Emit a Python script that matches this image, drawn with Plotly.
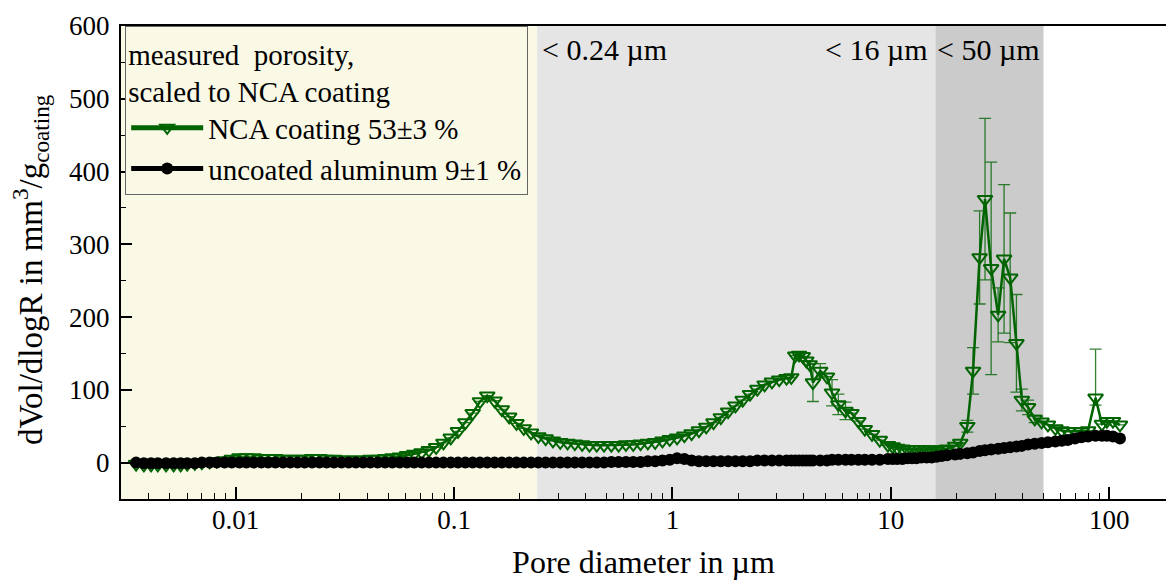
import math
import plotly.graph_objects as go

# ---------------- data ----------------
pore_diameter_um = [
    0.0035, 0.0038, 0.0041, 0.0044, 0.0048, 0.0052, 0.0056, 0.0060, 0.0065, 0.0070,
    0.0076, 0.0082, 0.0089, 0.0096, 0.0104, 0.0112, 0.0121, 0.0131, 0.0141, 0.0152,
    0.0165, 0.0178, 0.0192, 0.0207, 0.0224, 0.0242, 0.0261, 0.0282, 0.0305, 0.0329,
    0.0355, 0.0384, 0.0414, 0.0447, 0.0483, 0.0522, 0.0564, 0.0609, 0.0657, 0.0710,
    0.0767, 0.0828, 0.0894, 0.0966, 0.1043, 0.1127, 0.1217, 0.1314, 0.1419, 0.1533,
    0.1655, 0.1788, 0.1931, 0.2085, 0.2252, 0.2432, 0.2627, 0.2837, 0.3064, 0.3309,
    0.3574, 0.3860, 0.4169, 0.4502, 0.4862, 0.5251, 0.5671, 0.6125, 0.6615, 0.7144,
    0.7716, 0.8333, 0.9000, 0.9720, 1.050, 1.134, 1.224, 1.322, 1.428, 1.542,
    1.666, 1.799, 1.943, 2.098, 2.266, 2.448, 2.643, 2.855, 3.083, 3.330,
    3.500, 3.650, 3.800, 3.950, 4.100, 4.250, 4.400, 4.750, 5.100, 5.380,
    5.750, 6.200, 6.600, 7.100, 7.600, 8.200, 8.900, 9.700, 10.20, 10.70,
    11.30, 11.90, 12.50, 13.10, 13.80, 14.60, 15.40, 16.20, 17.10, 18.10,
    19.70, 20.80, 22.40, 23.80, 25.50, 27.00, 28.80, 31.00, 33.00, 35.20,
    37.60, 39.80, 42.50, 45.60, 49.00, 52.40, 56.70, 60.60, 64.60, 69.70,
    74.70, 80.00, 86.60, 92.60, 97.60, 104.0, 112.0,
]

nca_coating = [
    -2, -3, -3, -3, -3, -3, -3, -2, -1, 0,
    1, 2, 3, 5, 7, 7, 7, 6, 6, 6,
    5, 5, 5, 5, 6, 6, 5, 5, 4, 4,
    4, 4, 5, 5, 6, 7, 8, 10, 12, 14,
    17, 21, 27, 34, 43, 55, 68, 84, 92, 85,
    73, 63, 54, 47, 41, 36, 33, 30, 28, 27,
    26, 25, 24, 24, 24, 24, 24, 25, 25, 26,
    27, 28, 30, 32, 34, 37, 40, 44, 49, 55,
    62, 70, 78, 86, 94, 101, 107, 111, 114, 116,
    117, 147, 148, 146, 140, 135, 110, 126, 118, 96,
    80, 71, 68, 57, 46, 39, 31, 24, 22, 20,
    19, 18, 18, 18, 18, 18, 18, 17, 18, 19,
    23, 27, 50, 126, 282, 362, 267, 203, 280, 254,
    164, 86, 76, 60, 56, 52, 47, 44, 43, 43,
    43, 44, 89, 53, 57, 57, 52,
]

nca_err_plus = [None] * 96 + [26, 10, None, 18, 14, 12] + [None] * 20 + \
    [8, 32, 64, 111, 146, 37, 102, 89, 67, 15, 10, 5] + [None] * 8 + [67, None, None, None, None]
nca_err_minus = [None] * 96 + [26, 10, None, 18, 14, 12] + [None] * 20 + \
    [8, 32, 64, 111, 146, 37, 102, 89, 67, 15, 10, 5] + [None] * 8 + [10, None, None, None, None]

uncoated_aluminum = [
    0, -1, -1, -1, -1, -1, -1, -1, -1, 0,
    0, 0, 0, 0, 0, 0, 0, 0, 0, 0,
    0, 0, 0, 0, 0, 0, 0, 0, 0, 0,
    0, 0, 0, 0, 0, 0, 0, 0, 0, 0,
    0, 0, 0, 0, 0, 0, 0, 0, 0, 0,
    0, 0, 0, 0, 0, 0, 0, 0, 0, 0,
    0, 0, 0, 0, 0, 1, 1, 1, 1, 1,
    2, 2, 3, 4, 6, 5, 3, 2, 2, 2,
    2, 2, 2, 2, 2, 3, 3, 3, 3, 3,
    3, 3, 3, 3, 3, 3, 3, 3, 3, 4,
    4, 4, 4, 4, 4, 4, 4, 5, 5, 5,
    5, 6, 6, 6, 7, 7, 7, 8, 9, 10,
    11, 12, 13, 14, 16, 17, 18, 19, 20, 21,
    22, 23, 25, 26, 27, 28, 29, 30, 31, 33,
    35, 36, 37, 37, 37, 36, 33,
]

region_bounds_um = [0.24, 16, 50]
region_labels = ["< 0.24 µm", "< 16 µm", "< 50 µm"]

x_tick_vals = [0.01, 0.1, 1, 10, 100]
x_tick_text = ["0.01", "0.1", "1", "10", "100"]
x_minor_vals = [k * 10 ** d for d in range(-3, 3) for k in range(2, 10)]
y_tick_vals = [0, 100, 200, 300, 400, 500, 600]

# ---------------- styling ----------------
FONT = "Liberation Serif"
GREEN = "#006400"
YELLOW = "#FAF9E6"
GRAY1 = "#E5E5E5"
GRAY2 = "#CBCBCB"
TXT = 30

fig = go.Figure()

fig.add_trace(go.Scatter(
    x=pore_diameter_um, y=nca_coating,
    mode="lines+markers",
    name="NCA coating 53±3 %",
    line=dict(color=GREEN, width=2.5),
    marker=dict(symbol="triangle-down-open", size=13, color=GREEN, line=dict(width=2, color=GREEN)),
    error_y=dict(type="data", array=nca_err_plus, arrayminus=nca_err_minus, symmetric=False,
                 color="rgba(0,100,0,0.8)", thickness=1.3, width=6),
))

fig.add_trace(go.Scatter(
    x=pore_diameter_um, y=uncoated_aluminum,
    mode="lines+markers",
    name="uncoated aluminum 9±1 %",
    line=dict(color="black", width=2),
    marker=dict(symbol="circle", size=12, color="black"),
))

# shaded pore-size regions
fig.add_shape(type="rect", xref="x", yref="paper", x0=0.001, x1=region_bounds_um[0], y0=0, y1=1,
              fillcolor=YELLOW, line_width=0, layer="below")
fig.add_shape(type="rect", xref="x", yref="paper", x0=region_bounds_um[0], x1=region_bounds_um[1], y0=0, y1=1,
              fillcolor=GRAY1, line_width=0, layer="below")
fig.add_shape(type="rect", xref="x", yref="paper", x0=region_bounds_um[1], x1=region_bounds_um[2], y0=0, y1=1,
              fillcolor=GRAY2, line_width=0, layer="below")

fig.add_annotation(x=math.log10(region_bounds_um[0]), y=1.0, xref="x", yref="paper",
                   text=region_labels[0], showarrow=False, xanchor="left", yanchor="top",
                   xshift=3, yshift=-5, font=dict(family=FONT, size=TXT, color="black"))
fig.add_annotation(x=math.log10(region_bounds_um[1]), y=1.0, xref="x", yref="paper",
                   text=region_labels[1], showarrow=False, xanchor="right", yanchor="top",
                   xshift=-5, yshift=-5, font=dict(family=FONT, size=TXT, color="black"))
fig.add_annotation(x=math.log10(region_bounds_um[1]), y=1.0, xref="x", yref="paper",
                   text=region_labels[2], showarrow=False, xanchor="left", yanchor="top",
                   xshift=0, yshift=-5, font=dict(family=FONT, size=TXT, color="black"))

# y-axis title as a rotated annotation for precise placement
fig.add_annotation(x=0, y=0.484, xref="paper", yref="paper",
                   text="dVol/dlogR in mm<sup>3</sup>/g<sub>coating</sub>",
                   textangle=-90, showarrow=False, xanchor="center", yanchor="middle",
                   xshift=-91, font=dict(family=FONT, size=33, color="black"))

fig.update_xaxes(
    type="log", range=[-2.525, 2.26],
    tickvals=x_tick_vals, ticktext=x_tick_text,
    ticks="inside", ticklen=12, tickwidth=1.5, tickcolor="black",
    minor=dict(tickvals=x_minor_vals, ticks="inside", ticklen=6, tickwidth=1.2, tickcolor="black"),
    showline=True, linewidth=2, linecolor="black", mirror=True,
    showgrid=False, zeroline=False,
    tickfont=dict(family=FONT, size=27, color="black"),
    ticklabelstandoff=-4,
    title=dict(text="Pore diameter in µm", font=dict(family=FONT, size=32, color="black"), standoff=18),
)
fig.update_yaxes(
    range=[-50, 600], tickvals=y_tick_vals,
    ticks="inside", ticklen=11, tickwidth=1.5, tickcolor="black",
    minor=dict(dtick=50, tick0=0, ticks="inside", ticklen=5, tickwidth=1.2, tickcolor="black"),
    showline=True, linewidth=2, linecolor="black",
    showgrid=False, zeroline=False,
    tickfont=dict(family=FONT, size=27, color="black"),
    ticklabelstandoff=4,
)

fig.update_layout(
    width=1166, height=580,
    margin=dict(l=121, r=0, t=26, b=81),
    plot_bgcolor="white", paper_bgcolor="white",
    font=dict(family=FONT, color="black"),
    showlegend=True,
    legend=dict(
        x=0.004, y=1, xanchor="left", yanchor="top",
        bgcolor=YELLOW, bordercolor="#666666", borderwidth=1,
        font=dict(family=FONT, size=29, color="black"),
        title=dict(text="measured\u00a0\u00a0porosity,<br>scaled to NCA coating",
                   font=dict(family=FONT, size=29, color="black"), side="top"),
        tracegroupgap=0, itemsizing="constant", itemwidth=72,
    ),
)

fig.write_html("out.html")
